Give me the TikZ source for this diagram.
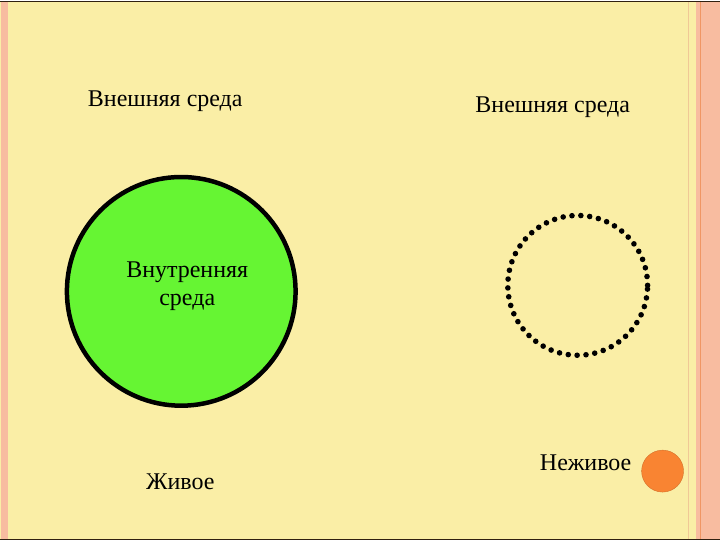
\documentclass[tikz,border=0pt]{standalone}
\usepackage{fontspec}
\setmainfont{Liberation Serif}
\usepackage{tikz}
\usetikzlibrary{positioning}

\definecolor{slidebg}{RGB}{250,238,166}
\definecolor{stripepink}{RGB}{248,188,160}
\definecolor{stripeline}{RGB}{240,150,100}
\definecolor{tanline}{RGB}{240,200,150}
\definecolor{livegreen}{RGB}{102,245,51}
\definecolor{ballorange}{RGB}{249,132,50}

\begin{document}
\begin{tikzpicture}[
  x=1pt,
  y=-1pt
]

  \tikzstyle{labelnode}=[font=\fontsize{24}{28}\selectfont,inner sep=0pt,align=center]
  \tikzstyle{cellnode}=[draw=black,line width=4.5pt,circle,fill=livegreen,minimum size=229pt,inner sep=0pt]
  \tikzstyle{dotnode}=[draw=black,circle,minimum size=140pt,inner sep=0pt,line width=5.6pt,line cap=round,dash pattern=on 0pt off 8.9pt]
  \tikzstyle{ballnode}=[circle,fill=ballorange,draw=ballorange!85!black,line width=0.4pt,minimum size=42pt,inner sep=0pt]

  % background
  \fill[slidebg] (0,0) rectangle (720,540);
  \fill[stripepink] (1,0) rectangle (8,540);
  \fill[stripepink] (696,0) rectangle (720,540);
  \draw[stripeline,line width=1.5pt] (701,0) -- (701,540);
  \draw[tanline,line width=1.2pt] (689,0) -- (689,540);
  \draw[black!75!brown,line width=1pt] (0,0.5) -- (720,0.5);
  \draw[black!75!brown,line width=1pt] (0,539.5) -- (720,539.5);

  % nodes
  \node[cellnode] (cell) at (181,291) {};
  \node[labelnode] (inner) at (187,286) {Внутренняя\\среда};
  \node[labelnode] (outl) at (165,101) {Внешняя среда};
  \node[labelnode] (live) at (180,482) {Живое};

  \node[dotnode] (shell) at (578,285) {};
  \node[labelnode] (outr) at (553,107) {Внешняя среда};
  \node[labelnode] (dead) at (586,463) {Неживое};
  \node[ballnode] (ball) at (663,471) {};

\end{tikzpicture}
\end{document}
